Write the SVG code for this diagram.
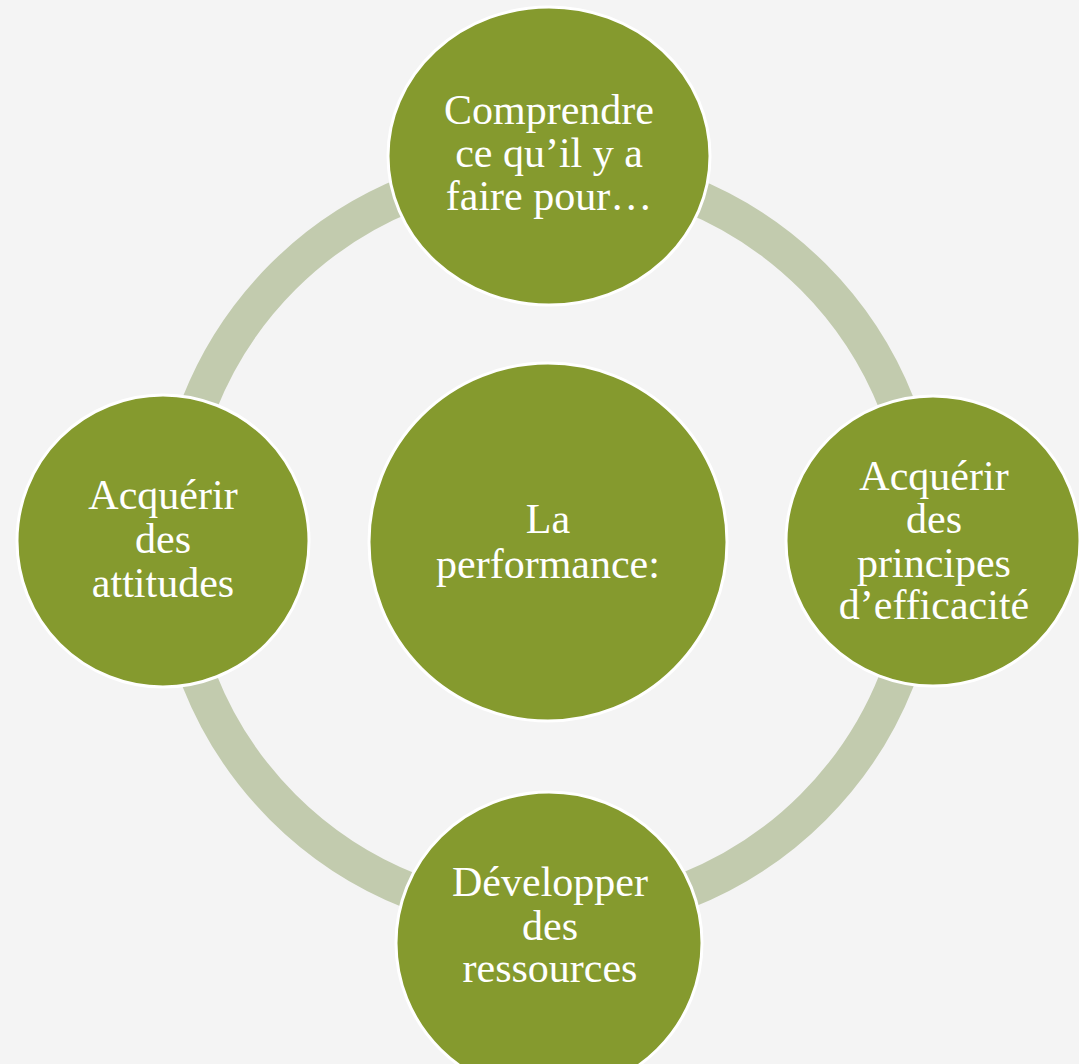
<svg xmlns="http://www.w3.org/2000/svg" width="1079" height="1064" viewBox="0 0 1079 1064">
  <style>
    .node { fill: #859A2E; stroke: #FFFFFF; stroke-width: 3; }
    .ring { fill: none; stroke: #C2CBAE; stroke-width: 36; }
    .lbl { font-family: "Liberation Serif", "DejaVu Serif", serif; font-size: 42px; fill: #FFFFFF; text-anchor: middle; }
  </style>
  <rect x="0" y="0" width="1079" height="1064" fill="#F4F4F4"/>
  <g id="connectors">
    <circle class="ring" cx="548" cy="542" r="375"/>
  </g>
  <g id="node-center">
    <circle class="node" cx="548" cy="542" r="179"/>
    <text class="lbl" x="548" y="533">La</text>
    <text class="lbl" x="548" y="578">performance:</text>
  </g>
  <g id="node-top">
    <ellipse class="node" cx="549" cy="156" rx="161" ry="149"/>
    <text class="lbl" x="549" y="124">Comprendre</text>
    <text class="lbl" x="549" y="167">ce qu’il y a</text>
    <text class="lbl" x="549" y="210">faire pour…</text>
  </g>
  <g id="node-right">
    <ellipse class="node" cx="933" cy="541" rx="147" ry="145"/>
    <text class="lbl" x="934" y="490">Acquérir</text>
    <text class="lbl" x="934" y="533">des</text>
    <text class="lbl" x="934" y="577">principes</text>
    <text class="lbl" x="934" y="619">d’efficacité</text>
  </g>
  <g id="node-bottom">
    <ellipse class="node" cx="549" cy="943" rx="153" ry="151"/>
    <text class="lbl" x="550" y="896">Développer</text>
    <text class="lbl" x="550" y="940">des</text>
    <text class="lbl" x="550" y="982">ressources</text>
  </g>
  <g id="node-left">
    <ellipse class="node" cx="163" cy="541" rx="146" ry="146"/>
    <text class="lbl" x="163" y="509">Acquérir</text>
    <text class="lbl" x="163" y="553">des</text>
    <text class="lbl" x="163" y="597">attitudes</text>
  </g>
</svg>
